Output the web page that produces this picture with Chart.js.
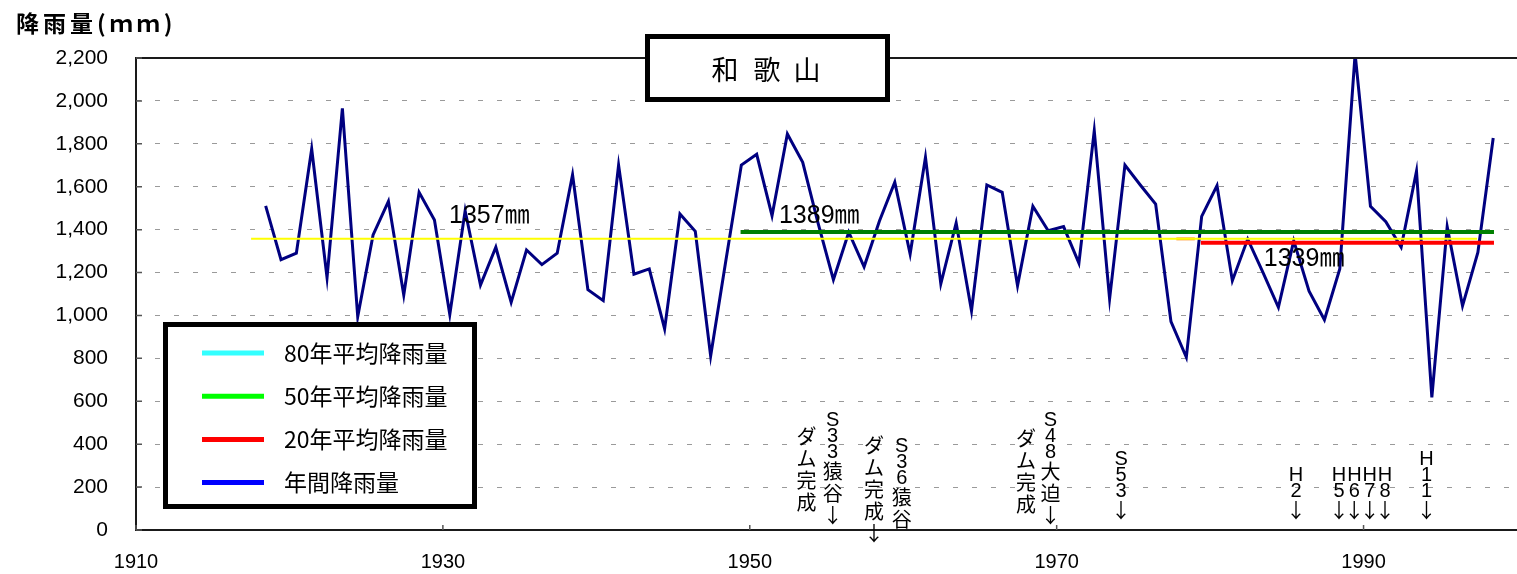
<!DOCTYPE html>
<html>
<head>
<meta charset="utf-8">
<script src="https://cdn.jsdelivr.net/npm/chart.js@4.4.1/dist/chart.umd.min.js"></script>
<style>
  body { margin: 0; background: #fff; }
  #wrap { width: 1517px; height: 574px; }
</style>
</head>
<body>
<div id="wrap"><canvas id="rainChart" width="1517" height="574"></canvas></div>
<script>
'use strict';

// 和歌山 annual rainfall (mm), 1918 - 1998
let years = [1918, 1919, 1920, 1921, 1922, 1923, 1924, 1925, 1926, 1927,
    1928, 1929, 1930, 1931, 1932, 1933, 1934, 1935, 1936, 1937,
    1938, 1939, 1940, 1941, 1942, 1943, 1944, 1945, 1946, 1947,
    1948, 1949, 1950, 1951, 1952, 1953, 1954, 1955, 1956, 1957,
    1958, 1959, 1960, 1961, 1962, 1963, 1964, 1965, 1966, 1967,
    1968, 1969, 1970, 1971, 1972, 1973, 1974, 1975, 1976, 1977,
    1978, 1979, 1980, 1981, 1982, 1983, 1984, 1985, 1986, 1987,
    1988, 1989, 1990, 1991, 1992, 1993, 1994, 1995, 1996, 1997,
    1998];
let annualRain = [1511, 1260, 1290, 1776, 1176, 1965, 994, 1375, 1532, 1095,
    1574, 1445, 1005, 1488, 1142, 1318, 1061, 1305, 1237, 1290,
    1656, 1120, 1069, 1701, 1192, 1217, 937, 1473, 1392, 811,
    1260, 1701, 1751, 1465, 1846, 1714, 1430, 1167, 1388, 1227,
    1440, 1621, 1286, 1737, 1147, 1431, 1022, 1608, 1574, 1139,
    1509, 1395, 1414, 1244, 1861, 1077, 1701, 1608, 1519, 971,
    805, 1462, 1605, 1162, 1356, 1200, 1038, 1348, 1113, 980,
    1217, 2219, 1509, 1437, 1318, 1672, 618, 1414, 1045, 1294,
    1827];

// average lines: 80 / 50 / 20 years, plus the small orange stub
let avgValues = [1357, 1389, 1339, 1357];
let avgFrom = [1917.5, 1949.4, 1979.4, 1977.8];
let avgTo = [1997.4, 1998.5, 1998.5, 1979.0];
let avgLabels = ['1357㎜', '1389㎜', '1339㎜'];
let avgLabelAt = [[1930.4, 1463], [1951.9, 1461], [1983.5, 1263]];

let xTicks = [1910, 1930, 1950, 1970, 1990];
let yTicks = [0, 200, 400, 600, 800, 1000, 1200, 1400, 1600, 1800, 2000, 2200];

let legendLabels = ['80年平均降雨量', '50年平均降雨量', '20年平均降雨量', '年間降雨量'];

// event notes under the line (year, text, value where first char sits)
let notes = [
    [1953.7, 'ダム完成', 435],
    [1955.4, 'S33猿谷↓', 510],
    [1958.1, 'ダム完成↓', 395],
    [1959.9, 'S36猿谷', 390],
    [1968.0, 'ダム完成', 425],
    [1969.6, 'S48大迫↓', 510],
    [1974.2, 'S53↓', 330],
    [1985.6, 'H2↓', 253],
    [1988.4, 'H5↓', 253],
    [1989.4, 'H6↓', 253],
    [1990.4, 'H7↓', 253],
    [1991.4, 'H8↓', 253],
    [1994.1, 'H11↓', 330]
];

let latinFont = "'Liberation Sans', 'Noto Sans CJK JP', sans-serif";
let cjkFont = "'Noto Sans CJK JP', 'Liberation Sans', sans-serif";
let avgColors = ['#FFFF00', '#008000', '#FF0000', '#FF9933'];
let avgWidths = [2, 4, 4, 3];
let legendColors = ['#33FFFF', '#00FF00', '#FF0000', '#0000FF'];

function avgLine(i) {
    return {
        label: 'avg' + i,
        data: [{ x: avgFrom[i], y: avgValues[i] }, { x: avgTo[i], y: avgValues[i] }],
        borderColor: avgColors[i],
        borderWidth: avgWidths[i],
        pointRadius: 0,
        fill: false
    };
}

let annualPoints = [];
for (let i = 0; i < years.length; i++) {
    annualPoints.push({ x: years[i] + 0.45, y: annualRain[i] });
}

let overlay = {
    id: 'overlay',
    afterDraw(chart) {
        let ctx = chart.ctx;
        let a = chart.chartArea;
        let xs = chart.scales.x;
        let ys = chart.scales.y;
        ctx.save();

        // frame lines
        ctx.strokeStyle = '#1a1a1a';
        ctx.lineWidth = 2;
        ctx.beginPath();
        ctx.moveTo(a.left, a.top);
        ctx.lineTo(chart.width, a.top);
        ctx.moveTo(a.left, a.top - 1);
        ctx.lineTo(a.left, a.bottom);
        ctx.lineTo(chart.width, a.bottom);
        ctx.stroke();

        // inner tick marks
        ctx.strokeStyle = '#555';
        ctx.lineWidth = 1.5;
        ctx.beginPath();
        yTicks.forEach(v => {
            let py = ys.getPixelForValue(v);
            ctx.moveTo(a.left, py);
            ctx.lineTo(a.left + 6, py);
        });
        xTicks.forEach(v => {
            let px = xs.getPixelForValue(v);
            ctx.moveTo(px, a.bottom);
            ctx.lineTo(px, a.bottom - 5);
        });
        ctx.stroke();

        // average value labels
        ctx.fillStyle = '#000';
        ctx.font = '25px ' + latinFont;
        ctx.textAlign = 'left';
        ctx.textBaseline = 'middle';
        for (let i = 0; i < avgLabels.length; i++) {
            ctx.fillText(avgLabels[i], xs.getPixelForValue(avgLabelAt[i][0]), ys.getPixelForValue(avgLabelAt[i][1]));
        }

        // vertical notes
        ctx.textAlign = 'center';
        notes.forEach(n => {
            let px = xs.getPixelForValue(n[0]);
            let py = ys.getPixelForValue(n[2]);
            let chars = Array.from(n[1]);
            for (let k = 0; k < chars.length; k++) {
                let wide = chars[k].charCodeAt(0) > 0x2000;
                ctx.font = wide ? '20px ' + cjkFont : '20px ' + latinFont;
                ctx.fillText(chars[k], px, py);
                if (k < chars.length - 1) {
                    let nextWide = chars[k + 1].charCodeAt(0) > 0x2000;
                    py += ((wide ? 22 : 16) + (nextWide ? 22 : 16)) / 2;
                }
            }
        });

        // title box
        ctx.fillStyle = '#fff';
        ctx.fillRect(647.5, 36.5, 240, 63);
        ctx.strokeStyle = '#000';
        ctx.lineWidth = 5;
        ctx.strokeRect(647.5, 36.5, 240, 63);
        ctx.fillStyle = '#000';
        ctx.font = '27px ' + cjkFont;
        ctx.fillText('和', 725, 70);
        ctx.fillText('歌', 767, 70);
        ctx.fillText('山', 807, 70);

        // legend box
        ctx.fillStyle = '#fff';
        ctx.fillRect(165.5, 324.5, 309, 182);
        ctx.strokeStyle = '#000';
        ctx.lineWidth = 5;
        ctx.strokeRect(165.5, 324.5, 309, 182);
        ctx.textAlign = 'left';
        ctx.font = '23px ' + cjkFont;
        for (let i = 0; i < legendLabels.length; i++) {
            let ly = 353 + i * 43.2;
            ctx.strokeStyle = legendColors[i];
            ctx.lineWidth = 5;
            ctx.beginPath();
            ctx.moveTo(202, ly);
            ctx.lineTo(264, ly);
            ctx.stroke();
            ctx.fillStyle = '#000';
            ctx.fillText(legendLabels[i], 284, ly);
        }

        // axis title
        ctx.font = 'bold 23px ' + cjkFont;
        ctx.letterSpacing = '4px';
        ctx.fillText('降雨量(ｍｍ)', 16, 23);
        ctx.restore();
    }
};

let ctx = document.getElementById('rainChart').getContext('2d');
let rainChart = new Chart(ctx, {
    type: 'line',
    data: {
        datasets: [avgLine(0), avgLine(1), avgLine(2), avgLine(3), {
            label: '年間降雨量',
            data: annualPoints,
            borderColor: '#000080',
            borderWidth: 3,
            pointRadius: 0,
            tension: 0,
            fill: false
        }]
    },
    options: {
        responsive: false,
        animation: false,
        layout: { padding: { top: 58, left: 0, right: 0, bottom: 0 } },
        plugins: { legend: { display: false }, tooltip: { enabled: false } },
        scales: {
            x: {
                type: 'linear',
                min: 1910,
                max: 2000,
                afterBuildTicks: s => { s.ticks = xTicks.map(v => ({ value: v })); },
                afterFit: s => { s.height = 44; },
                grid: { display: false, drawTicks: false },
                border: { display: false },
                ticks: {
                    autoSkip: false,
                    maxRotation: 0,
                    padding: 20,
                    color: '#000',
                    font: { size: 20, family: latinFont },
                    callback: v => String(v)
                }
            },
            y: {
                min: 0,
                max: 2200,
                afterBuildTicks: s => { s.ticks = yTicks.map(v => ({ value: v })); },
                afterFit: s => { s.width = 136; },
                grid: {
                    drawTicks: false,
                    lineWidth: 1,
                    color: c => (c.tick.value === 0 || c.tick.value === 2200) ? 'rgba(0,0,0,0)' : '#9a9a9a'
                },
                border: { display: false, dash: [5, 14] },
                ticks: {
                    padding: 28,
                    color: '#000',
                    font: { size: 21, family: latinFont },
                    callback: v => v.toLocaleString('en-US')
                }
            }
        }
    },
    plugins: [overlay]
});
</script>
</body>
</html>
